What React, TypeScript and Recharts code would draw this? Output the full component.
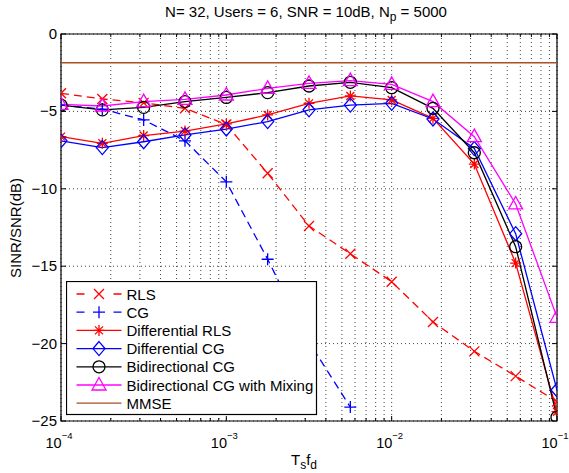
import { LineChart, Line, XAxis, YAxis, CartesianGrid, Legend, ReferenceLine, ReferenceArea } from "recharts";

// T_s f_d sample points (4 per decade)
const TSFD = [1e-4, 1.778e-4, 3.162e-4, 5.623e-4, 1e-3, 1.778e-3, 3.162e-3, 5.623e-3, 1e-2, 1.778e-2, 3.162e-2, 5.623e-2, 1e-1];

// SINR/SNR (dB)
const RLS = [-3.83, -4.2, -4.45, -4.8, -5.85, -9.0, -12.4, -14.2, -16.0, -18.6, -20.5, -22.1, -23.75];
const CG = [-4.6, -4.85, -5.55, -6.9, -9.55, -14.55, -19.9, -24.1, null, null, null, null, null];
const DIFF_RLS = [-6.63, -7.06, -6.56, -6.27, -5.81, -5.23, -4.48, -4.0, -4.26, -5.45, -8.4, -14.8, -24.4];
const DIFF_CG = [-6.9, -7.34, -6.96, -6.52, -6.14, -5.66, -4.9, -4.59, -4.48, -5.49, -7.4, -12.9, -23.0];
const BI_CG = [-4.6, -4.9, -4.74, -4.37, -4.1, -3.79, -3.36, -3.12, -3.47, -4.8, -7.67, -13.74, -24.76];
const BI_CG_MIX = [-4.55, -4.65, -4.37, -4.22, -3.94, -3.51, -3.19, -3.01, -3.25, -4.37, -6.63, -10.98, -18.3];
const MMSE = -1.85;

const X_MAJOR = [1e-4, 1e-3, 1e-2, 1e-1];
const X_MAJOR_EXP = ["\u22124", "\u22123", "\u22122", "\u22121"];
const X_MINOR_MULT = [2, 3, 4, 5, 6, 7, 8, 9];
const Y_TICKS = [-25, -20, -15, -10, -5, 0];
const Y_TICK_LABELS = ["\u221225", "\u221220", "\u221215", "\u221210", "\u22125", "0"];

const X_TICKS = [
  ...X_MAJOR,
  ...X_MAJOR.slice(0, 3).flatMap((d) => X_MINOR_MULT.map((m) => d * m)),
].sort((a, b) => a - b);

const FONT = "'Liberation Sans', Arial, Helvetica, sans-serif";
const PLOT_LEFT = 61;
const PLOT_RIGHT = 557;
const PLOT_TOP = 34;
const PLOT_BOTTOM = 421;

const data = TSFD.map((x, i) => ({
  x,
  rls: RLS[i],
  cg: CG[i],
  diffRls: DIFF_RLS[i],
  diffCg: DIFF_CG[i],
  biCg: BI_CG[i],
  biCgMix: BI_CG_MIX[i],
}));

type MarkerKind = "x" | "+" | "*" | "diamond" | "circle" | "triangle" | "none";

function Marker({ kind, cx, cy, color }: { kind: MarkerKind; cx: number; cy: number; color: string }) {
  const common = { stroke: color, strokeWidth: 1.3, fill: "none" };
  switch (kind) {
    case "x": {
      const d = 5;
      return <path d={`M${cx - d},${cy - d}L${cx + d},${cy + d}M${cx - d},${cy + d}L${cx + d},${cy - d}`} {...common} />;
    }
    case "+": {
      const d = 6;
      return <path d={`M${cx - d},${cy}L${cx + d},${cy}M${cx},${cy - d}L${cx},${cy + d}`} {...common} />;
    }
    case "*": {
      const d = 5.5;
      const e = 4;
      return (
        <path
          d={`M${cx - d},${cy}L${cx + d},${cy}M${cx},${cy - d}L${cx},${cy + d}M${cx - e},${cy - e}L${cx + e},${cy + e}M${cx - e},${cy + e}L${cx + e},${cy - e}`}
          {...common}
        />
      );
    }
    case "diamond":
      return <path d={`M${cx},${cy - 7}L${cx + 6},${cy}L${cx},${cy + 7}L${cx - 6},${cy}Z`} {...common} />;
    case "circle":
      return <circle cx={cx} cy={cy} r={6} {...common} />;
    case "triangle":
      return <path d={`M${cx},${cy - 7.5}L${cx + 7},${cy + 5}L${cx - 7},${cy + 5}Z`} {...common} />;
    default:
      return null;
  }
}

const SERIES: { key: string; label: string; color: string; dash?: string; marker: MarkerKind }[] = [
  { key: "rls", label: "RLS", color: "#ff0000", dash: "8 5", marker: "x" },
  { key: "cg", label: "CG", color: "#0000ff", dash: "8 5", marker: "+" },
  { key: "diffRls", label: "Differential RLS", color: "#ff0000", marker: "*" },
  { key: "diffCg", label: "Differential CG", color: "#0000ff", marker: "diamond" },
  { key: "biCg", label: "Bidirectional CG", color: "#000000", marker: "circle" },
  { key: "biCgMix", label: "Bidirectional CG with Mixing", color: "#ff00ff", marker: "triangle" },
];
const MMSE_COLOR = "#a84f24";

function XTick(props: any) {
  const { x, payload } = props;
  const v = payload.value;
  const idx = X_MAJOR.findIndex((m) => Math.abs(m - v) / m < 1e-6);
  const major = idx >= 0;
  const len = major ? 5 : 3;
  return (
    <g>
      <line x1={x} x2={x} y1={PLOT_BOTTOM} y2={PLOT_BOTTOM - len} stroke="#000" />
      <line x1={x} x2={x} y1={PLOT_TOP} y2={PLOT_TOP + len} stroke="#000" />
      {major && (
        <text x={x - 2} y={448} textAnchor="middle" fontFamily={FONT} fontSize={14.5} fill="#000">
          <tspan>10</tspan>
          <tspan dy={-9} fontSize={9.5}>{X_MAJOR_EXP[idx]}</tspan>
        </text>
      )}
    </g>
  );
}

function YTick(props: any) {
  const { y, payload } = props;
  const idx = Y_TICKS.indexOf(payload.value);
  return (
    <g>
      <line x1={PLOT_LEFT} x2={PLOT_LEFT + 5} y1={y} y2={y} stroke="#000" />
      <line x1={PLOT_RIGHT} x2={PLOT_RIGHT - 5} y1={y} y2={y} stroke="#000" />
      <text x={57} y={y} dy={5} textAnchor="end" fontFamily={FONT} fontSize={15} fill="#000">
        {Y_TICK_LABELS[idx]}
      </text>
    </g>
  );
}

function LegendBox() {
  const rows = [...SERIES, { key: "mmse", label: "MMSE", color: MMSE_COLOR, dash: undefined, marker: "none" as MarkerKind }];
  return (
    <svg width={252} height={135} style={{ display: "block" }}>
      <rect x={0.5} y={0.5} width={250} height={133} fill="#fff" stroke="#000" strokeWidth={1.2} />
      {rows.map((r, i) => {
        const y = 13 + i * 18.2;
        return (
          <g key={r.key}>
            <line
              x1={10.5}
              x2={55.5}
              y1={y}
              y2={y}
              stroke={r.color}
              strokeWidth={1.3}
              strokeDasharray={r.dash ? "8 29 8" : undefined}
            />
            <Marker kind={r.marker} cx={33} cy={y} color={r.color} />
            <text x={60.5} y={y + 5.5} fontFamily={FONT} fontSize={15} fill="#000">
              {r.label}
            </text>
          </g>
        );
      })}
    </svg>
  );
}

export default function App() {
  return (
    <div style={{ position: "absolute", left: 0, top: 0, width: 569, height: 473, background: "#fff" }}>
      <LineChart width={569} height={473} data={data} margin={{ top: 34, right: 12, bottom: 0, left: 21 }}>
        <CartesianGrid stroke="#444" strokeDasharray="1 3" fill="none" />
        <XAxis
          dataKey="x"
          type="number"
          scale="log"
          domain={[1e-4, 1e-1]}
          allowDataOverflow
          ticks={X_TICKS}
          interval={0}
          tick={(p: any) => <XTick {...p} />}
          tickLine={false}
          axisLine={false}
          height={52}
          label={() => (
            <text x={304} y={465} textAnchor="middle" fontFamily={FONT} fontSize={15} fill="#000">
              <tspan>T</tspan>
              <tspan dy={4} fontSize={12}>s</tspan>
              <tspan dy={-4}>f</tspan>
              <tspan dy={4} fontSize={12}>d</tspan>
            </text>
          )}
        />
        <YAxis
          type="number"
          domain={[-25, 0]}
          allowDataOverflow
          ticks={Y_TICKS}
          interval={0}
          tick={(p: any) => <YTick {...p} />}
          tickLine={false}
          axisLine={false}
          width={40}
          label={() => (
            <text
              x={16}
              y={228}
              transform="rotate(-90 16 228)"
              textAnchor="middle"
              dy={5}
              fontFamily={FONT}
              fontSize={15}
              fill="#000"
            >
              SINR/SNR(dB)
            </text>
          )}
        />
        <ReferenceLine y={MMSE} stroke={MMSE_COLOR} strokeWidth={1.5} />
        {SERIES.map((s) => (
          <Line
            key={s.key}
            dataKey={s.key}
            stroke={s.color}
            strokeWidth={1.3}
            strokeDasharray={s.dash}
            isAnimationActive={false}
            connectNulls={false}
            dot={(p: any) =>
              p.cy == null || p.value == null ? (
                <g key={p.key} />
              ) : (
                <Marker key={p.key} kind={s.marker} cx={p.cx} cy={p.cy} color={s.color} />
              )
            }
            activeDot={false}
          />
        ))}
        <ReferenceArea x1={1e-4} x2={1e-1} y1={-25} y2={0} fill="none" stroke="#000" strokeWidth={1.2} />
        <Legend
          layout="vertical"
          align="center"
          verticalAlign="middle"
          wrapperStyle={{ left: 66, top: 281, width: 252, height: 135 }}
          content={() => <LegendBox />}
        />
        <text x={306} y={17} textAnchor="middle" fontFamily={FONT} fontSize={15} fill="#000">
          <tspan>N= 32, Users = 6, SNR = 10dB, N</tspan>
          <tspan dy={4} fontSize={12}>p</tspan>
          <tspan dy={-4}> = 5000</tspan>
        </text>
      </LineChart>
    </div>
  );
}
